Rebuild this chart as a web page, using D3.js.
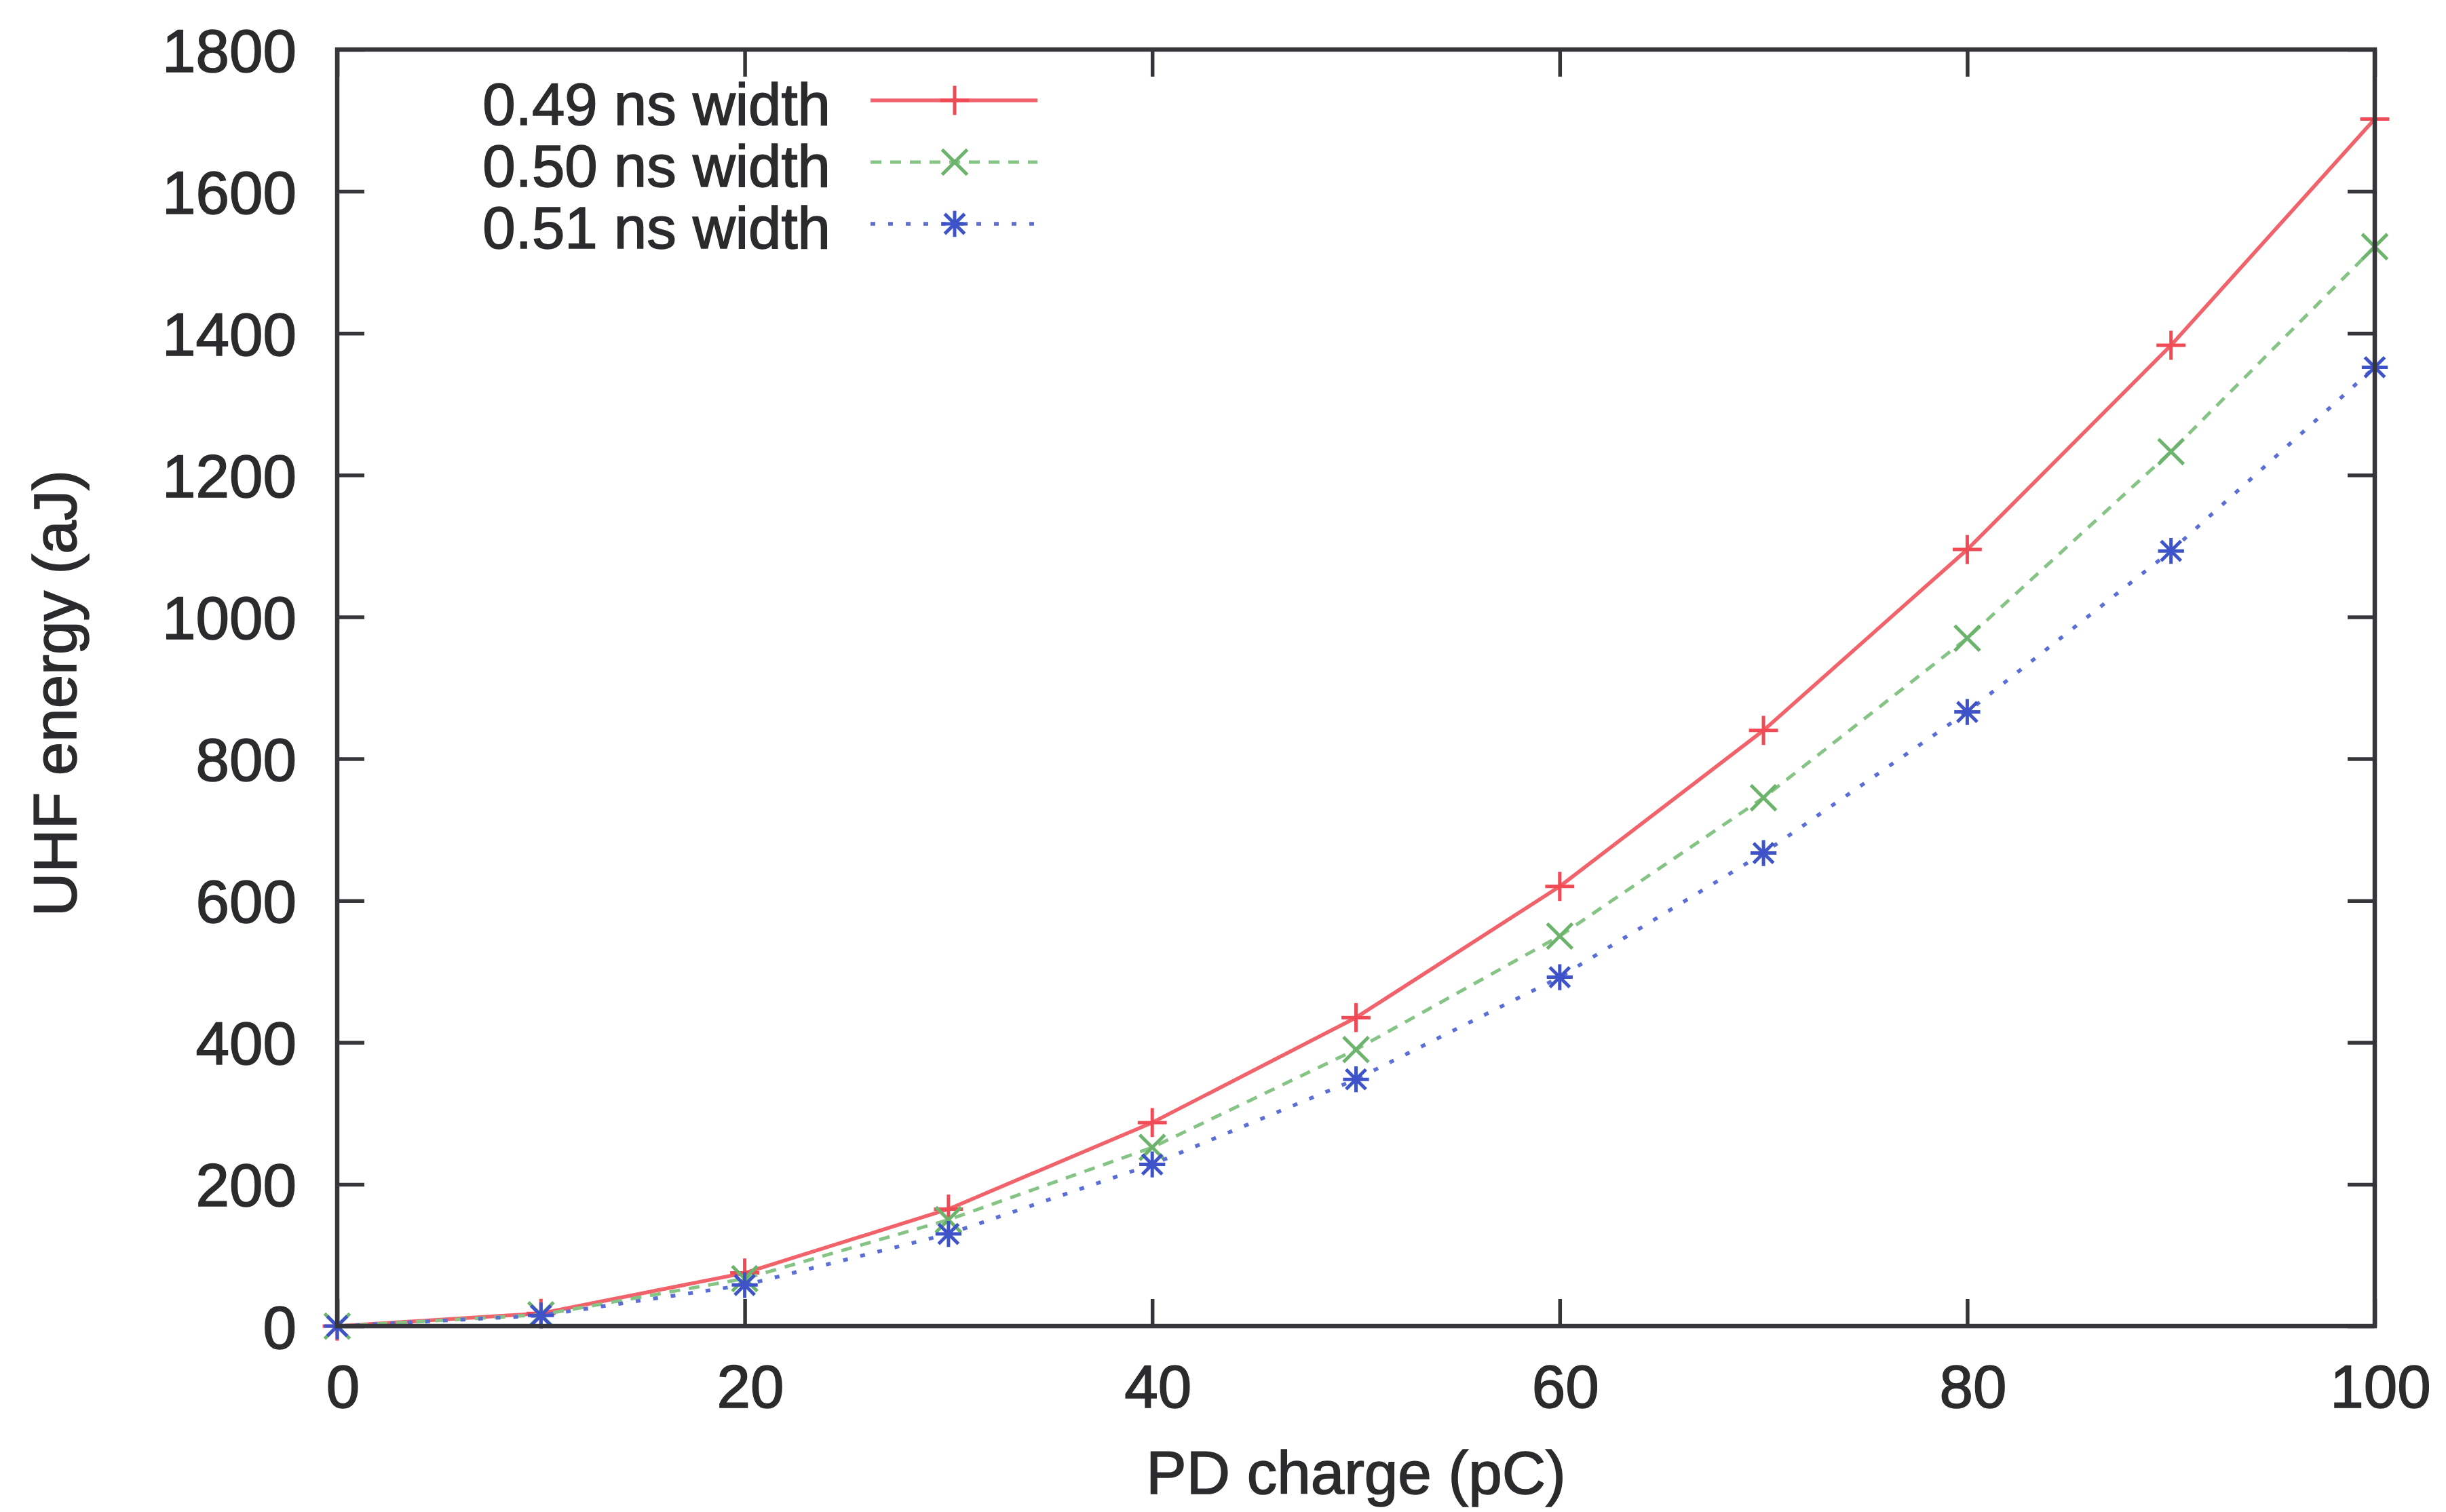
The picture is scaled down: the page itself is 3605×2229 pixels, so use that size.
<!DOCTYPE html>
<html>
<head>
<meta charset="utf-8">
<script src="https://cdn.jsdelivr.net/npm/d3@7"></script>
<style>
  html, body { margin: 0; padding: 0; background: #ffffff; }
  svg { display: block; }
  text { font-family: "Liberation Sans", Arial, Helvetica, sans-serif; fill: #2b2b2e; stroke: #2b2b2e; stroke-width: 1.6px; }
</style>
</head>
<body>
<script>
// PD charge (pC) on the x axis
const charges = [0, 10, 20, 30, 40, 50, 60, 70, 80, 90, 100];

// UHF energy (aJ) for each pulse width
const energy049 = [0, 18, 75, 165, 287, 435, 620, 840, 1095, 1383, 1702];
const energy050 = [0, 16, 67, 150, 252, 390, 550, 745, 970, 1233, 1522];
const energy051 = [0, 15, 58, 130, 228, 348, 492, 667, 866, 1093, 1352];

const seriesNames = ["0.49 ns width", "0.50 ns width", "0.51 ns width"];

const xTicks = [0, 20, 40, 60, 80, 100];
const yTicks = [0, 200, 400, 600, 800, 1000, 1200, 1400, 1600, 1800];

const xTitle = "PD charge (pC)";
const yTitle = "UHF energy (aJ)";

const W = 3605, H = 2229;
const plot = { left: 497, right: 3500, top: 73, bottom: 1955 };

const svg = d3.select("body").append("svg")
  .attr("width", W).attr("height", H)
  .attr("viewBox", `0 0 ${W} ${H}`);

const x = d3.scaleLinear().domain([0, 100]).range([plot.left, plot.right]);
const y = d3.scaleLinear().domain([0, 1800]).range([plot.bottom, plot.top]);

const axisColor = "#35353a";
const tickLen = 40;
const fontSize = 89;

// Bottom axis with labels, ticks pointing inward
const gx = svg.append("g")
  .attr("transform", `translate(0,${plot.bottom})`)
  .call(d3.axisBottom(x).tickValues(xTicks).tickSize(-tickLen).tickPadding(57).tickFormat(d3.format("d")));
// Left axis with labels
const gy = svg.append("g")
  .attr("transform", `translate(${plot.left},0)`)
  .call(d3.axisLeft(y).tickValues(yTicks).tickSize(-tickLen).tickPadding(60).tickFormat(d3.format("d")));
// Mirrored ticks on top and right
const gxt = svg.append("g")
  .attr("transform", `translate(0,${plot.top})`)
  .call(d3.axisTop(x).tickValues(xTicks).tickSize(-tickLen).tickFormat(""));
const gyr = svg.append("g")
  .attr("transform", `translate(${plot.right},0)`)
  .call(d3.axisRight(y).tickValues(yTicks).tickSize(-tickLen).tickFormat(""));

[gx, gy, gxt, gyr].forEach(g => {
  g.select(".domain").remove();
  g.selectAll(".tick line").attr("stroke", axisColor).attr("stroke-width", 5.5);
  g.selectAll(".tick text")
    .attr("font-size", fontSize)
    .attr("font-family", "Liberation Sans, Arial, sans-serif")
    .attr("fill", "#2b2b2e");
});
gy.selectAll(".tick text").attr("dy", "0.36em");
gx.selectAll(".tick text").attr("dx", 8);

// Axis titles
svg.append("text")
  .attr("x", (plot.left + plot.right) / 2)
  .attr("y", 2202)
  .attr("text-anchor", "middle")
  .attr("font-size", fontSize)
  .text(xTitle);

svg.append("text")
  .attr("transform", `translate(112,${(plot.top + plot.bottom) / 2 + 8}) rotate(-90)`)
  .attr("text-anchor", "middle")
  .attr("font-size", fontSize)
  .text(yTitle);

// Marker shapes
const plusSym = d3.symbol().type(d3.symbolPlus).size(600)();
const timesSym = d3.symbol().type(d3.symbolTimes).size(900)();
const starPlusSym = d3.symbol().type(d3.symbolPlus).size(480)();
const starTimesSym = d3.symbol().type(d3.symbolTimes).size(560)();

const series = [
  { name: seriesNames[0], values: energy049, color: "#f2626a", markColor: "#f04a55", dash: null, width: 5.5, marks: [plusSym] },
  { name: seriesNames[1], values: energy050, color: "#86c486", markColor: "#6cb46c", dash: "16,13", width: 5, marks: [timesSym] },
  { name: seriesNames[2], values: energy051, color: "#5a6ed6", markColor: "#3e53c8", dash: "7,19", width: 5.5, marks: [starPlusSym, starTimesSym] }
];

const line = d3.line().x(d => x(d[0])).y(d => y(d[1]));

const plotG = svg.append("g");
series.forEach(s => {
  const pts = charges.map((c, i) => [c, s.values[i]]);
  plotG.append("path")
    .datum(pts)
    .attr("d", line)
    .attr("fill", "none")
    .attr("stroke", s.color)
    .attr("stroke-width", s.width)
    .attr("stroke-linejoin", "round")
    .attr("stroke-dasharray", s.dash);
  s.marks.forEach(m => {
    plotG.selectAll(null)
      .data(pts)
      .enter().append("path")
      .attr("d", m)
      .attr("transform", d => `translate(${x(d[0])},${y(d[1])})`)
      .attr("fill", "none")
      .attr("stroke", s.markColor)
      .attr("stroke-width", 5);
  });
});

// Frame
svg.append("rect")
  .attr("x", plot.left).attr("y", plot.top)
  .attr("width", plot.right - plot.left)
  .attr("height", plot.bottom - plot.top)
  .attr("fill", "none")
  .attr("stroke", axisColor)
  .attr("stroke-width", 6.5);

// Legend
const legend = svg.append("g");
const legendBaselines = [184, 275, 366];
const legendTextRight = 1224;
const sampleX0 = 1283, sampleX1 = 1529, sampleMid = 1407;
series.forEach((s, i) => {
  const by = legendBaselines[i];
  const ly = by - 36;
  legend.append("text")
    .attr("x", legendTextRight)
    .attr("y", by)
    .attr("text-anchor", "end")
    .attr("font-size", fontSize - 2)
    .text(s.name);
  legend.append("line")
    .attr("x1", sampleX0).attr("x2", sampleX1)
    .attr("y1", ly).attr("y2", ly)
    .attr("stroke", s.color)
    .attr("stroke-width", s.width)
    .attr("stroke-dasharray", s.dash);
  s.marks.forEach(m => {
    legend.append("path")
      .attr("d", m)
      .attr("transform", `translate(${sampleMid},${ly})`)
      .attr("fill", "none")
      .attr("stroke", s.markColor)
      .attr("stroke-width", 5);
  });
});
</script>
</body>
</html>
